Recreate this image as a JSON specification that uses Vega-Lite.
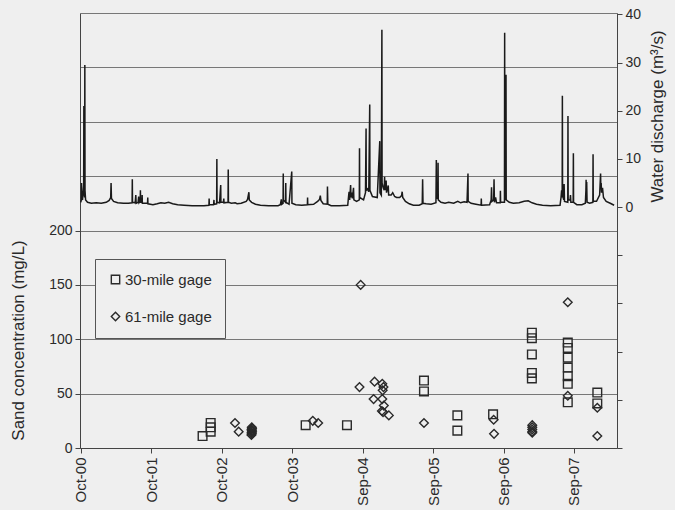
{
  "$schema": "https://vega.github.io/schema/vega-lite/v6.json",
  "width": 537,
  "height": 435,
  "autosize": {"type": "none"},
  "padding": {"left": 80, "top": 13, "right": 58, "bottom": 62},
  "background": "#efefef",
  "config": {
    "view": {"stroke": null},
    "font": "Liberation Sans",
    "axis": {
      "labelFont": "Liberation Sans",
      "titleFont": "Liberation Sans",
      "labelFontSize": 14,
      "titleFontSize": 17,
      "titleFontWeight": "normal",
      "labelColor": "#2a2a2a",
      "titleColor": "#2a2a2a",
      "domainColor": "#444",
      "tickColor": "#444",
      "gridColor": "#777",
      "gridOpacity": 1,
      "gridWidth": 1
    }
  },
  "datasets": {
    "discharge": [
      {"date": "2000-10-01", "q": 1.0}, {"date": "2000-10-04", "q": 1.5}, {"date": "2000-10-05", "q": 5.0},
      {"date": "2000-10-06", "q": 2.0}, {"date": "2000-10-10", "q": 1.5}, {"date": "2000-10-16", "q": 4.5},
      {"date": "2000-10-17", "q": 21.0}, {"date": "2000-10-18", "q": 3.0}, {"date": "2000-10-21", "q": 2.0},
      {"date": "2000-10-22", "q": 29.5}, {"date": "2000-10-23", "q": 3.5}, {"date": "2000-10-26", "q": 1.5},
      {"date": "2000-11-05", "q": 1.0}, {"date": "2000-11-25", "q": 0.8}, {"date": "2000-12-20", "q": 0.9},
      {"date": "2001-01-15", "q": 0.8}, {"date": "2001-02-10", "q": 1.0}, {"date": "2001-02-25", "q": 1.4},
      {"date": "2001-03-05", "q": 2.0}, {"date": "2001-03-07", "q": 5.0}, {"date": "2001-03-09", "q": 1.8},
      {"date": "2001-03-20", "q": 1.2}, {"date": "2001-04-10", "q": 0.9}, {"date": "2001-05-10", "q": 0.8},
      {"date": "2001-06-05", "q": 0.8}, {"date": "2001-06-24", "q": 0.9}, {"date": "2001-06-25", "q": 5.8},
      {"date": "2001-06-26", "q": 1.0}, {"date": "2001-07-10", "q": 0.9}, {"date": "2001-07-13", "q": 2.5},
      {"date": "2001-07-15", "q": 0.8}, {"date": "2001-07-25", "q": 1.0}, {"date": "2001-07-28", "q": 2.2},
      {"date": "2001-07-30", "q": 0.9}, {"date": "2001-08-05", "q": 1.2}, {"date": "2001-08-06", "q": 3.5},
      {"date": "2001-08-07", "q": 1.0}, {"date": "2001-08-14", "q": 1.0}, {"date": "2001-08-15", "q": 2.5},
      {"date": "2001-08-16", "q": 0.8}, {"date": "2001-09-12", "q": 0.8}, {"date": "2001-09-13", "q": 2.0},
      {"date": "2001-09-14", "q": 0.7}, {"date": "2001-10-10", "q": 0.5}, {"date": "2001-11-01", "q": 0.7},
      {"date": "2001-11-20", "q": 0.9}, {"date": "2001-12-10", "q": 0.8}, {"date": "2001-12-30", "q": 1.0},
      {"date": "2002-01-20", "q": 0.7}, {"date": "2002-02-15", "q": 0.5}, {"date": "2002-03-20", "q": 0.4},
      {"date": "2002-05-01", "q": 0.3}, {"date": "2002-07-01", "q": 0.3}, {"date": "2002-07-27", "q": 0.4},
      {"date": "2002-07-28", "q": 1.8}, {"date": "2002-07-29", "q": 0.5}, {"date": "2002-08-20", "q": 0.5},
      {"date": "2002-08-22", "q": 1.5}, {"date": "2002-08-23", "q": 0.6}, {"date": "2002-09-05", "q": 0.7},
      {"date": "2002-09-06", "q": 10.0}, {"date": "2002-09-07", "q": 1.0}, {"date": "2002-09-20", "q": 0.9},
      {"date": "2002-09-26", "q": 4.6}, {"date": "2002-09-27", "q": 1.0}, {"date": "2002-10-10", "q": 1.0},
      {"date": "2002-10-12", "q": 1.8}, {"date": "2002-10-13", "q": 0.9}, {"date": "2002-11-03", "q": 1.0},
      {"date": "2002-11-04", "q": 7.8}, {"date": "2002-11-05", "q": 1.0}, {"date": "2002-11-20", "q": 0.8},
      {"date": "2002-12-10", "q": 0.9}, {"date": "2002-12-20", "q": 0.7}, {"date": "2003-01-10", "q": 0.8},
      {"date": "2003-02-05", "q": 1.2}, {"date": "2003-02-12", "q": 1.6}, {"date": "2003-02-19", "q": 3.1},
      {"date": "2003-02-21", "q": 1.5}, {"date": "2003-03-05", "q": 1.0}, {"date": "2003-03-25", "q": 0.6},
      {"date": "2003-04-20", "q": 0.4}, {"date": "2003-06-01", "q": 0.3}, {"date": "2003-07-20", "q": 0.3},
      {"date": "2003-08-01", "q": 0.5}, {"date": "2003-08-06", "q": 1.6}, {"date": "2003-08-08", "q": 0.6},
      {"date": "2003-08-15", "q": 0.8}, {"date": "2003-08-16", "q": 7.0}, {"date": "2003-08-17", "q": 1.5},
      {"date": "2003-08-28", "q": 1.0}, {"date": "2003-08-29", "q": 5.0}, {"date": "2003-08-30", "q": 1.0},
      {"date": "2003-09-15", "q": 0.6}, {"date": "2003-09-29", "q": 7.4}, {"date": "2003-09-30", "q": 0.8},
      {"date": "2003-10-20", "q": 0.5}, {"date": "2003-11-20", "q": 0.4}, {"date": "2003-12-19", "q": 0.5},
      {"date": "2003-12-20", "q": 2.0}, {"date": "2003-12-21", "q": 0.5}, {"date": "2004-01-20", "q": 0.6},
      {"date": "2004-02-10", "q": 1.2}, {"date": "2004-02-20", "q": 1.6}, {"date": "2004-02-24", "q": 2.4},
      {"date": "2004-02-27", "q": 1.4}, {"date": "2004-03-10", "q": 0.7}, {"date": "2004-03-31", "q": 0.6},
      {"date": "2004-04-01", "q": 4.3}, {"date": "2004-04-03", "q": 0.6}, {"date": "2004-04-20", "q": 0.3},
      {"date": "2004-06-01", "q": 0.3}, {"date": "2004-07-15", "q": 0.4}, {"date": "2004-07-20", "q": 2.5},
      {"date": "2004-07-22", "q": 3.2}, {"date": "2004-07-25", "q": 1.5}, {"date": "2004-07-30", "q": 4.6},
      {"date": "2004-08-01", "q": 2.0}, {"date": "2004-08-05", "q": 3.0}, {"date": "2004-08-08", "q": 1.8},
      {"date": "2004-08-14", "q": 4.0}, {"date": "2004-08-16", "q": 1.5}, {"date": "2004-08-30", "q": 1.2},
      {"date": "2004-09-13", "q": 1.5}, {"date": "2004-09-14", "q": 12.2}, {"date": "2004-09-15", "q": 2.0},
      {"date": "2004-10-05", "q": 1.5}, {"date": "2004-10-15", "q": 3.0}, {"date": "2004-10-18", "q": 16.3},
      {"date": "2004-10-19", "q": 3.5}, {"date": "2004-10-25", "q": 3.8}, {"date": "2004-11-01", "q": 3.2},
      {"date": "2004-11-06", "q": 21.3}, {"date": "2004-11-07", "q": 3.5}, {"date": "2004-11-20", "q": 2.2},
      {"date": "2004-12-15", "q": 2.0}, {"date": "2004-12-28", "q": 13.7}, {"date": "2004-12-29", "q": 3.0},
      {"date": "2005-01-05", "q": 2.5}, {"date": "2005-01-08", "q": 36.8}, {"date": "2005-01-09", "q": 5.0},
      {"date": "2005-01-15", "q": 4.0}, {"date": "2005-01-20", "q": 3.5}, {"date": "2005-01-22", "q": 6.3},
      {"date": "2005-01-24", "q": 3.5}, {"date": "2005-01-30", "q": 5.5}, {"date": "2005-02-01", "q": 3.0},
      {"date": "2005-02-10", "q": 4.5}, {"date": "2005-02-12", "q": 2.5}, {"date": "2005-02-25", "q": 2.5},
      {"date": "2005-03-05", "q": 3.0}, {"date": "2005-03-15", "q": 2.2}, {"date": "2005-03-25", "q": 2.0},
      {"date": "2005-04-10", "q": 2.0}, {"date": "2005-04-20", "q": 2.4}, {"date": "2005-04-23", "q": 3.2},
      {"date": "2005-04-26", "q": 2.0}, {"date": "2005-05-10", "q": 1.2}, {"date": "2005-05-30", "q": 0.7},
      {"date": "2005-06-20", "q": 0.4}, {"date": "2005-07-20", "q": 0.4}, {"date": "2005-08-05", "q": 0.7},
      {"date": "2005-08-07", "q": 5.8}, {"date": "2005-08-09", "q": 0.8}, {"date": "2005-08-25", "q": 0.7},
      {"date": "2005-09-20", "q": 0.6}, {"date": "2005-10-15", "q": 0.9}, {"date": "2005-10-17", "q": 9.8},
      {"date": "2005-10-18", "q": 2.0}, {"date": "2005-10-25", "q": 1.8}, {"date": "2005-10-26", "q": 9.2},
      {"date": "2005-10-27", "q": 1.5}, {"date": "2005-11-10", "q": 1.0}, {"date": "2005-12-01", "q": 0.8},
      {"date": "2005-12-20", "q": 1.0}, {"date": "2006-01-15", "q": 0.8}, {"date": "2006-02-05", "q": 1.2},
      {"date": "2006-02-20", "q": 0.9}, {"date": "2006-03-10", "q": 1.1}, {"date": "2006-03-25", "q": 1.0},
      {"date": "2006-03-30", "q": 7.0}, {"date": "2006-03-31", "q": 1.2}, {"date": "2006-04-15", "q": 0.8},
      {"date": "2006-05-10", "q": 0.6}, {"date": "2006-06-06", "q": 0.4}, {"date": "2006-06-07", "q": 1.8},
      {"date": "2006-06-08", "q": 0.4}, {"date": "2006-07-20", "q": 0.5}, {"date": "2006-07-28", "q": 1.5},
      {"date": "2006-07-30", "q": 4.1}, {"date": "2006-08-01", "q": 1.2}, {"date": "2006-08-10", "q": 1.5},
      {"date": "2006-08-12", "q": 5.8}, {"date": "2006-08-14", "q": 1.0}, {"date": "2006-08-20", "q": 2.0},
      {"date": "2006-08-25", "q": 0.9}, {"date": "2006-09-13", "q": 0.9}, {"date": "2006-09-14", "q": 3.4},
      {"date": "2006-09-15", "q": 1.0}, {"date": "2006-10-05", "q": 1.0}, {"date": "2006-10-06", "q": 36.2},
      {"date": "2006-10-07", "q": 2.0}, {"date": "2006-10-12", "q": 1.5}, {"date": "2006-10-13", "q": 27.5},
      {"date": "2006-10-14", "q": 1.5}, {"date": "2006-10-30", "q": 1.0}, {"date": "2006-11-20", "q": 0.8},
      {"date": "2006-12-20", "q": 0.9}, {"date": "2007-01-15", "q": 1.2}, {"date": "2007-02-05", "q": 1.3},
      {"date": "2007-02-25", "q": 0.9}, {"date": "2007-03-20", "q": 0.6}, {"date": "2007-04-20", "q": 0.4},
      {"date": "2007-06-01", "q": 0.3}, {"date": "2007-07-20", "q": 0.4}, {"date": "2007-07-25", "q": 2.0},
      {"date": "2007-07-28", "q": 3.5}, {"date": "2007-07-31", "q": 2.0}, {"date": "2007-08-01", "q": 23.1},
      {"date": "2007-08-02", "q": 2.5}, {"date": "2007-08-08", "q": 1.5}, {"date": "2007-08-10", "q": 4.8},
      {"date": "2007-08-12", "q": 1.2}, {"date": "2007-08-29", "q": 1.0}, {"date": "2007-08-30", "q": 18.9},
      {"date": "2007-08-31", "q": 1.5}, {"date": "2007-09-10", "q": 1.5}, {"date": "2007-09-12", "q": 2.5},
      {"date": "2007-09-14", "q": 1.0}, {"date": "2007-09-26", "q": 1.0}, {"date": "2007-09-27", "q": 11.2},
      {"date": "2007-09-28", "q": 1.0}, {"date": "2007-10-15", "q": 0.5}, {"date": "2007-11-10", "q": 0.5},
      {"date": "2007-11-28", "q": 0.8}, {"date": "2007-12-01", "q": 3.5}, {"date": "2007-12-02", "q": 5.7},
      {"date": "2007-12-03", "q": 1.5}, {"date": "2007-12-05", "q": 5.2}, {"date": "2007-12-07", "q": 1.0},
      {"date": "2007-12-20", "q": 0.8}, {"date": "2008-01-06", "q": 1.0}, {"date": "2008-01-07", "q": 11.0},
      {"date": "2008-01-08", "q": 1.2}, {"date": "2008-01-25", "q": 1.2}, {"date": "2008-02-10", "q": 2.5},
      {"date": "2008-02-15", "q": 7.0}, {"date": "2008-02-16", "q": 4.5}, {"date": "2008-02-18", "q": 5.0},
      {"date": "2008-02-20", "q": 3.0}, {"date": "2008-02-25", "q": 4.0}, {"date": "2008-03-01", "q": 2.0},
      {"date": "2008-03-15", "q": 1.2}, {"date": "2008-04-05", "q": 0.8}, {"date": "2008-04-25", "q": 0.4}
    ],
    "conc": [
      {"date": "2002-06-24", "conc": 11, "gage": "30-mile gage"},
      {"date": "2002-08-05", "conc": 15, "gage": "30-mile gage"},
      {"date": "2002-08-05", "conc": 19, "gage": "30-mile gage"},
      {"date": "2002-08-05", "conc": 23, "gage": "30-mile gage"},
      {"date": "2003-12-10", "conc": 21, "gage": "30-mile gage"},
      {"date": "2004-07-11", "conc": 21, "gage": "30-mile gage"},
      {"date": "2005-08-14", "conc": 62, "gage": "30-mile gage"},
      {"date": "2005-08-14", "conc": 52, "gage": "30-mile gage"},
      {"date": "2006-02-03", "conc": 30, "gage": "30-mile gage"},
      {"date": "2006-02-03", "conc": 16, "gage": "30-mile gage"},
      {"date": "2006-08-07", "conc": 31, "gage": "30-mile gage"},
      {"date": "2007-02-24", "conc": 106, "gage": "30-mile gage"},
      {"date": "2007-02-24", "conc": 101, "gage": "30-mile gage"},
      {"date": "2007-02-24", "conc": 86, "gage": "30-mile gage"},
      {"date": "2007-02-24", "conc": 69, "gage": "30-mile gage"},
      {"date": "2007-02-24", "conc": 64, "gage": "30-mile gage"},
      {"date": "2007-08-29", "conc": 97, "gage": "30-mile gage"},
      {"date": "2007-08-29", "conc": 92, "gage": "30-mile gage"},
      {"date": "2007-08-29", "conc": 83, "gage": "30-mile gage"},
      {"date": "2007-08-29", "conc": 74, "gage": "30-mile gage"},
      {"date": "2007-08-29", "conc": 66, "gage": "30-mile gage"},
      {"date": "2007-08-29", "conc": 59, "gage": "30-mile gage"},
      {"date": "2007-08-29", "conc": 42, "gage": "30-mile gage"},
      {"date": "2008-01-29", "conc": 51, "gage": "30-mile gage"},
      {"date": "2008-01-29", "conc": 41, "gage": "30-mile gage"},
      {"date": "2002-12-09", "conc": 23, "gage": "61-mile gage"},
      {"date": "2002-12-28", "conc": 15, "gage": "61-mile gage"},
      {"date": "2003-03-04", "conc": 12, "gage": "61-mile gage"},
      {"date": "2003-03-05", "conc": 14, "gage": "61-mile gage"},
      {"date": "2003-03-06", "conc": 16, "gage": "61-mile gage"},
      {"date": "2003-03-07", "conc": 18, "gage": "61-mile gage"},
      {"date": "2003-03-06", "conc": 13, "gage": "61-mile gage"},
      {"date": "2003-03-05", "conc": 17, "gage": "61-mile gage"},
      {"date": "2003-03-07", "conc": 15, "gage": "61-mile gage"},
      {"date": "2003-03-06", "conc": 19, "gage": "61-mile gage"},
      {"date": "2004-01-16", "conc": 25, "gage": "61-mile gage"},
      {"date": "2004-02-13", "conc": 23, "gage": "61-mile gage"},
      {"date": "2004-09-14", "conc": 56, "gage": "61-mile gage"},
      {"date": "2004-09-20", "conc": 150, "gage": "61-mile gage"},
      {"date": "2004-12-01", "conc": 61, "gage": "61-mile gage"},
      {"date": "2004-11-26", "conc": 45, "gage": "61-mile gage"},
      {"date": "2005-01-10", "conc": 59, "gage": "61-mile gage"},
      {"date": "2005-01-16", "conc": 56, "gage": "61-mile gage"},
      {"date": "2005-01-12", "conc": 53, "gage": "61-mile gage"},
      {"date": "2005-01-10", "conc": 45, "gage": "61-mile gage"},
      {"date": "2005-01-18", "conc": 39, "gage": "61-mile gage"},
      {"date": "2005-01-08", "conc": 34, "gage": "61-mile gage"},
      {"date": "2005-01-14", "conc": 33, "gage": "61-mile gage"},
      {"date": "2005-02-13", "conc": 30, "gage": "61-mile gage"},
      {"date": "2005-08-14", "conc": 23, "gage": "61-mile gage"},
      {"date": "2006-08-10", "conc": 26, "gage": "61-mile gage"},
      {"date": "2006-08-12", "conc": 13, "gage": "61-mile gage"},
      {"date": "2007-02-26", "conc": 21, "gage": "61-mile gage"},
      {"date": "2007-02-26", "conc": 19, "gage": "61-mile gage"},
      {"date": "2007-02-26", "conc": 17, "gage": "61-mile gage"},
      {"date": "2007-02-26", "conc": 15, "gage": "61-mile gage"},
      {"date": "2007-02-26", "conc": 14, "gage": "61-mile gage"},
      {"date": "2007-08-29", "conc": 134, "gage": "61-mile gage"},
      {"date": "2007-08-29", "conc": 48, "gage": "61-mile gage"},
      {"date": "2008-01-29", "conc": 37, "gage": "61-mile gage"},
      {"date": "2008-01-29", "conc": 11, "gage": "61-mile gage"}
    ]
  },
  "layer": [
    {
      "data": {"name": "conc"},
      "mark": {"type": "point", "filled": false, "stroke": "#2a2a2a", "strokeWidth": 1.4, "size": 75, "opacity": 1},
      "encoding": {
        "x": {
          "field": "date", "type": "temporal",
          "scale": {"domain": [{"year": 2000, "month": 9, "date": 27}, {"year": 2008, "month": 5, "date": 10}]},
          "axis": {
            "values": [
              {"year": 2000, "month": 10, "date": 1}, {"year": 2001, "month": 10, "date": 1},
              {"year": 2002, "month": 10, "date": 1}, {"year": 2003, "month": 10, "date": 1},
              {"year": 2004, "month": 9, "date": 30}, {"year": 2005, "month": 9, "date": 30},
              {"year": 2006, "month": 9, "date": 30}, {"year": 2007, "month": 9, "date": 30}
            ],
            "format": "%b-%y", "labelAngle": 270, "title": null, "grid": false,
            "tickSize": 5, "labelPadding": 4, "labelFontSize": 15
          }
        },
        "y": {
          "field": "conc", "type": "quantitative",
          "scale": {"domain": [0, 400], "nice": false},
          "axis": {
            "orient": "left",
            "values": [0, 50, 100, 150, 200, 250, 300, 350, 400],
            "labelExpr": "datum.value <= 200 ? datum.label : ''",
            "tickOpacity": {"condition": {"test": "datum.value <= 200", "value": 1}, "value": 0},
            "grid": true, "tickSize": 5, "labelPadding": 3,
            "title": "Sand concentration (mg/L)",
            "titleX": -62, "titleY": 327, "titleAlign": "center", "titleBaseline": "middle", "titleAngle": 270
          }
        },
        "shape": {
          "field": "gage", "type": "nominal",
          "scale": {"domain": ["30-mile gage", "61-mile gage"], "range": ["square", "diamond"]},
          "legend": {
            "orient": "none", "legendX": 15, "legendY": 246, "title": null,
            "strokeColor": "#555", "fillColor": "#efefef", "padding": 13, "rowPadding": 21,
            "labelFontSize": 15, "labelColor": "#2a2a2a", "labelFont": "Liberation Sans",
            "symbolSize": 70, "symbolStrokeColor": "#2a2a2a", "symbolStrokeWidth": 1.4,
            "symbolFillColor": "transparent", "labelOffset": 2
          }
        }
      }
    },
    {
      "data": {"name": "discharge"},
      "mark": {"type": "line", "color": "#1a1a1a", "strokeWidth": 1.5, "interpolate": "linear"},
      "encoding": {
        "x": {"field": "date", "type": "temporal"},
        "y": {
          "field": "q", "type": "quantitative",
          "scale": {"domain": [-50, 40.3], "nice": false, "zero": false},
          "axis": {
            "orient": "right",
            "values": [-50, -40, -30, -20, -10, 0, 10, 20, 30, 40],
            "labelExpr": "datum.value >= 0 ? datum.label : ''",
            "grid": false, "tickSize": 5, "labelPadding": 3,
            "title": "Water discharge (m³/s)",
            "titleX": 40, "titleY": 103, "titleAlign": "center", "titleBaseline": "middle", "titleAngle": 270
          }
        }
      }
    }
  ],
  "resolve": {"scale": {"y": "independent"}, "axis": {"y": "independent"}}
}
